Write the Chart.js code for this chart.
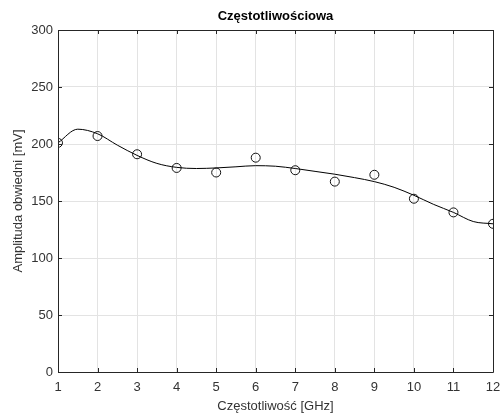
<!DOCTYPE html>
<html>
<head>
<meta charset="utf-8">
<script src="https://cdn.jsdelivr.net/npm/chart.js@4/dist/chart.umd.min.js"></script>
<style>
  html, body { margin: 0; padding: 0; background: #fff; }
  #wrap { width: 504px; height: 414px; }
</style>
</head>
<body>
<div id="wrap"><canvas id="myChart" width="504" height="414"></canvas></div>
<script>
// measured amplitudes
var freq = [1, 2, 3, 4, 5, 6, 7, 8, 9, 10, 11, 12];
var amplitude = [201, 207, 191, 179, 175, 188, 177, 167, 173, 152, 140, 130];

// smoothed fit through the measurements
var fitFreq = [1, 1.5, 2, 2.5, 3, 3.5, 4, 4.5, 5, 5.5, 6, 6.5, 7, 7.5, 8, 8.5, 9, 9.5, 10, 10.5, 11, 11.5, 12];
var fitAmp = [201, 213, 209, 199, 190, 183, 179.5, 178.5, 179, 180, 181, 180.5, 178.5, 176, 173.5, 170.5, 167, 162, 155, 147, 140, 132, 130];

var yTicks = [0, 50, 100, 150, 200, 250, 300];

var fontFamily = "'Liberation Sans', Arial, sans-serif";

var scatter = freq.map(function (f, i) { return { x: f, y: amplitude[i] }; });
var fit = fitFreq.map(function (f, i) { return { x: f, y: fitAmp[i] }; });

// box around the axes with inward ticks on all four sides
var boxPlugin = {
    id: 'box',
    afterDatasetsDraw: function (chart) {
        var c = chart.ctx, a = chart.chartArea;
        var xs = chart.scales.x, ys = chart.scales.y;
        c.save();
        c.strokeStyle = '#262626';
        c.lineWidth = 1;
        c.beginPath();
        c.rect(Math.round(a.left) + 0.5, Math.round(a.top) + 0.5,
               Math.round(a.right - a.left), Math.round(a.bottom - a.top));
        xs.ticks.forEach(function (t) {
            var px = Math.round(xs.getPixelForValue(t.value)) + 0.5;
            c.moveTo(px, a.bottom); c.lineTo(px, a.bottom - 4);
            c.moveTo(px, a.top); c.lineTo(px, a.top + 4);
        });
        ys.ticks.forEach(function (t) {
            var py = Math.round(ys.getPixelForValue(t.value)) + 0.5;
            c.moveTo(a.left, py); c.lineTo(a.left + 4, py);
            c.moveTo(a.right, py); c.lineTo(a.right - 4, py);
        });
        c.stroke();
        c.restore();
    }
};

var ctx = document.getElementById("myChart");
var myChart = new Chart(ctx, {
    type: 'scatter',
    data: {
        datasets: [{
            data: scatter,
            showLine: false,
            pointStyle: 'circle',
            pointRadius: 4.5,
            pointBorderWidth: 1,
            pointBorderColor: '#111',
            pointBackgroundColor: 'rgba(0,0,0,0)',
            order: 2
        },
            {
                data: fit,
                showLine: true,
                borderColor: '#000',
                borderWidth: 1,
                cubicInterpolationMode: 'monotone',
                pointRadius: 0,
                order: 1
            }
        ]
    },
    options: {
        responsive: false,
        animation: false,
        layout: {
            padding: { left: 0, right: 11, top: 0, bottom: 0 }
        },
        plugins: {
            legend: { display: false },
            tooltip: { enabled: false }
        },
        scales: {
            // top axis only carries the title so it sits centred over the plot
            top: {
                type: 'linear',
                position: 'top',
                min: 1,
                max: 12,
                afterFit: function (s) {
                    s.height = 30;
                    s.paddingLeft = 0;
                    s.paddingRight = 0;
                },
                ticks: { display: false },
                grid: { display: false, drawTicks: false },
                border: { display: false },
                title: {
                    display: true,
                    text: 'Częstotliwościowa',
                    color: '#000',
                    padding: { top: 9, bottom: 0 },
                    font: { family: fontFamily, size: 13, weight: 'bold' }
                }
            },
            x: {
                type: 'linear',
                min: 1,
                max: 12,
                afterFit: function (s) {
                    s.height = 42;
                    s.paddingLeft = 0;
                    s.paddingRight = 0;
                },
                ticks: {
                    stepSize: 1,
                    color: '#333',
                    padding: 8,
                    font: { family: fontFamily, size: 13 }
                },
                grid: { color: '#e3e3e3', drawTicks: false },
                border: { display: false },
                title: {
                    display: true,
                    text: 'Częstotliwość [GHz]',
                    color: '#333',
                    padding: { top: 0, bottom: 0 },
                    font: { family: fontFamily, size: 13 }
                }
            },
            y: {
                min: 0,
                max: 300,
                afterFit: function (s) {
                    s.width = 58;
                    s.paddingTop = 0;
                    s.paddingBottom = 0;
                },
                afterBuildTicks: function (s) {
                    s.ticks = yTicks.map(function (v) { return { value: v }; });
                },
                ticks: {
                    color: '#333',
                    padding: 5,
                    font: { family: fontFamily, size: 13 }
                },
                grid: { color: '#e3e3e3', drawTicks: false },
                border: { display: false },
                title: {
                    display: true,
                    text: 'Amplituda obwiedni [mV]',
                    color: '#333',
                    padding: { top: 11, bottom: 0 },
                    font: { family: fontFamily, size: 13 }
                }
            }
        }
    },
    plugins: [boxPlugin]
});
</script>
</body>
</html>
